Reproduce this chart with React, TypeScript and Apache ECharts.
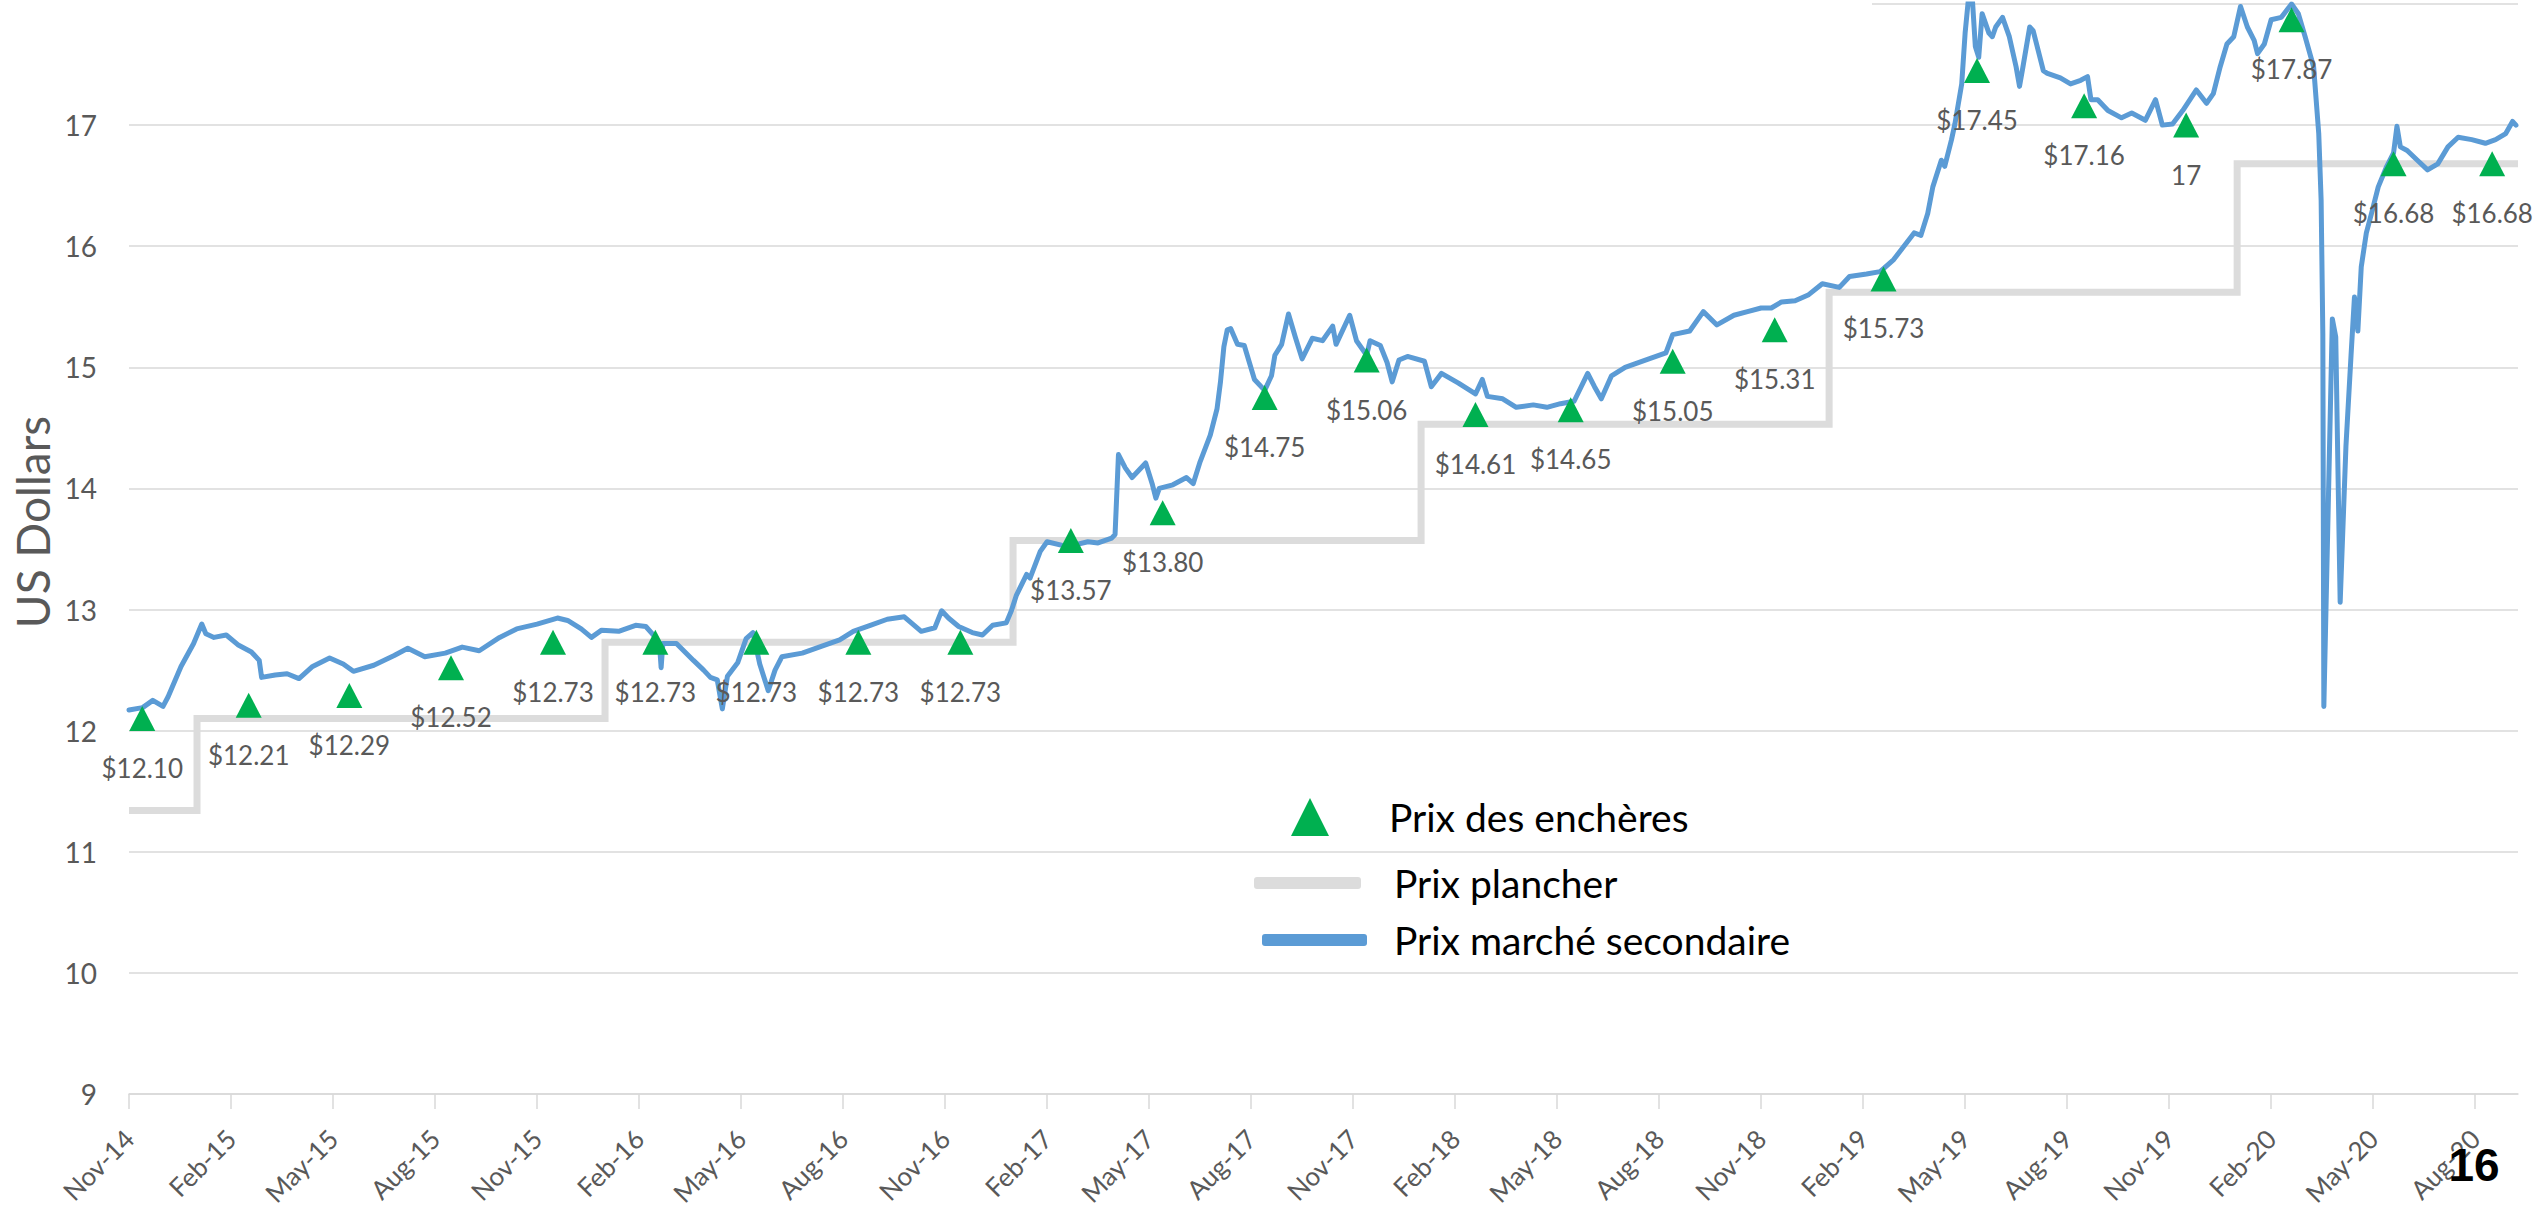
import React, { useEffect, useRef } from 'react';
import * as echarts from 'echarts';

// X axis: months counted from Nov 2014 (0 = Nov-14)
const xTickMonths = [0, 3, 6, 9, 12, 15, 18, 21, 24, 27, 30, 33, 36, 39, 42, 45, 48, 51, 54, 57, 60, 63, 66, 69];
const xTickLabels = ['Nov-14', 'Feb-15', 'May-15', 'Aug-15', 'Nov-15', 'Feb-16', 'May-16', 'Aug-16', 'Nov-16', 'Feb-17', 'May-17', 'Aug-17', 'Nov-17', 'Feb-18', 'May-18', 'Aug-18', 'Nov-18', 'Feb-19', 'May-19', 'Aug-19', 'Nov-19', 'Feb-20', 'May-20', 'Aug-20'];
const xMaxMonth = 70.26;

// Floor price (step changes each January)
const floorMonths = [0, 2, 14, 26, 38, 50, 62, 70.26];
const floorPrices = [11.34, 12.10, 12.73, 13.57, 14.53, 15.62, 16.68, 16.68];

// Auction settlement prices
const auctionMonths = [0.39, 3.52, 6.48, 9.47, 12.47, 15.48, 18.45, 21.45, 24.45, 27.7, 30.4, 33.4, 36.4, 39.6, 42.4, 45.4, 48.4, 51.6, 54.35, 57.5, 60.5, 63.6, 66.6, 69.5];
const auctionPrices = [12.10, 12.21, 12.29, 12.52, 12.73, 12.73, 12.73, 12.73, 12.73, 13.57, 13.80, 14.75, 15.06, 14.61, 14.65, 15.05, 15.31, 15.73, 17.45, 17.16, 17.00, 17.87, 16.68, 16.68];
const auctionLabels = ['$12.10', '$12.21', '$12.29', '$12.52', '$12.73', '$12.73', '$12.73', '$12.73', '$12.73', '$13.57', '$13.80', '$14.75', '$15.06', '$14.61', '$14.65', '$15.05', '$15.31', '$15.73', '$17.45', '$17.16', '17', '$17.87', '$16.68', '$16.68'];

// Secondary market price
const secondaryMonths = [
  0.0, 0.4, 0.7, 1.0, 1.15, 1.53, 1.9, 2.14, 2.26, 2.5, 2.86, 3.2, 3.6, 3.83, 3.9, 4.3, 4.65, 5.0, 5.4, 5.9,
  6.3, 6.6, 7.2, 7.8, 8.2, 8.7, 9.3, 9.8, 10.3, 10.9, 11.4, 12.0, 12.6, 12.9, 13.3, 13.6, 13.9, 14.4, 14.9, 15.2,
  15.45, 15.6, 15.65, 15.7, 16.1, 16.6, 16.9, 17.1, 17.3, 17.45, 17.6, 17.9, 18.15, 18.35, 18.55, 18.8, 19.0, 19.2, 19.8, 20.4,
  20.9, 21.3, 21.8, 22.3, 22.8, 23.3, 23.7, 23.9, 24.1, 24.4, 24.8, 25.1, 25.4, 25.8, 25.95, 26.1, 26.4, 26.5, 26.8, 27.0,
  27.6, 28.2, 28.5, 28.9, 29.0, 29.1, 29.3, 29.5, 29.9, 30.1, 30.2, 30.3, 30.7, 31.1, 31.3, 31.5, 31.8, 32.0, 32.1, 32.2,
  32.3, 32.4, 32.6, 32.8, 33.1, 33.4, 33.6, 33.7, 33.9, 34.1, 34.3, 34.5, 34.8, 35.1, 35.4, 35.5, 35.9, 36.1, 36.4, 36.5,
  36.8, 37.0, 37.15, 37.35, 37.6, 38.1, 38.3, 38.6, 39.1, 39.6, 39.8, 39.95, 40.4, 40.8, 41.3, 41.7, 42.1, 42.5, 42.9, 43.1,
  43.3, 43.6, 44.0, 44.7, 45.2, 45.4, 45.9, 46.3, 46.7, 47.2, 47.6, 48.0, 48.3, 48.6, 49.0, 49.4, 49.8, 50.3, 50.6, 51.1,
  51.5, 51.9, 52.2, 52.5, 52.7, 52.9, 53.05, 53.3, 53.4, 53.6, 53.7, 53.9, 54.0, 54.1, 54.2, 54.3, 54.4, 54.5, 54.7, 54.8,
  54.9, 55.1, 55.3, 55.5, 55.6, 55.7, 55.9, 56.0, 56.3, 56.4, 56.8, 57.1, 57.4, 57.6, 57.7, 57.9, 58.2, 58.6, 58.9, 59.3,
  59.6, 59.8, 60.1, 60.4, 60.8, 61.1, 61.3, 61.5, 61.7, 61.9, 62.1, 62.3, 62.5, 62.6, 62.8, 63.0, 63.3, 63.6, 63.8, 64.0,
  64.25, 64.4, 64.47, 64.52, 64.55, 64.8, 64.9, 65.03, 65.2, 65.35, 65.45, 65.55, 65.65, 65.8, 65.95, 66.15, 66.4, 66.6, 66.7, 66.8,
  67.0, 67.3, 67.6, 67.9, 68.2, 68.5, 68.9, 69.3, 69.6, 69.9, 70.1, 70.2,
];
const secondaryPrices = [
  12.17, 12.19, 12.25, 12.20, 12.28, 12.53, 12.72, 12.88, 12.80, 12.77, 12.79, 12.71, 12.65, 12.58, 12.44, 12.46, 12.47, 12.43, 12.53, 12.60,
  12.55, 12.49, 12.54, 12.62, 12.68, 12.61, 12.64, 12.69, 12.66, 12.77, 12.84, 12.88, 12.93, 12.91, 12.84, 12.77, 12.83, 12.82, 12.87, 12.86,
  12.78, 12.72, 12.52, 12.72, 12.72, 12.58, 12.50, 12.44, 12.42, 12.18, 12.45, 12.56, 12.76, 12.81, 12.55, 12.33, 12.50, 12.61, 12.64, 12.70,
  12.75, 12.82, 12.87, 12.92, 12.94, 12.82, 12.85, 12.99, 12.93, 12.86, 12.81, 12.79, 12.87, 12.89, 12.99, 13.12, 13.29, 13.26, 13.48, 13.56,
  13.52, 13.56, 13.55, 13.59, 13.62, 14.28, 14.17, 14.09, 14.21, 14.03, 13.92, 14.00, 14.03, 14.09, 14.04, 14.22, 14.44, 14.66, 14.88, 15.17,
  15.31, 15.32, 15.19, 15.18, 14.90, 14.81, 14.93, 15.10, 15.19, 15.44, 15.25, 15.07, 15.24, 15.22, 15.34, 15.19, 15.43, 15.22, 15.10, 15.22,
  15.18, 15.04, 14.88, 15.06, 15.09, 15.05, 14.84, 14.95, 14.87, 14.78, 14.90, 14.76, 14.74, 14.67, 14.69, 14.67, 14.70, 14.72, 14.95, 14.84,
  14.74, 14.93, 15.00, 15.07, 15.12, 15.27, 15.30, 15.46, 15.35, 15.43, 15.46, 15.49, 15.49, 15.54, 15.55, 15.60, 15.69, 15.66, 15.75, 15.77,
  15.79, 15.89, 16.00, 16.11, 16.09, 16.27, 16.49, 16.71, 16.66, 16.88, 17.01, 17.34, 17.76, 18.05, 18.10, 17.65, 17.56, 17.92, 17.76, 17.73,
  17.81, 17.89, 17.73, 17.48, 17.32, 17.48, 17.81, 17.78, 17.45, 17.43, 17.39, 17.34, 17.37, 17.40, 17.21, 17.21, 17.12, 17.06, 17.10, 17.04,
  17.21, 17.00, 17.01, 17.12, 17.29, 17.18, 17.26, 17.48, 17.67, 17.73, 17.98, 17.81, 17.70, 17.59, 17.67, 17.87, 17.89, 18.00, 17.92, 17.73,
  17.48, 16.93, 16.38, 15.28, 12.20, 15.40, 15.25, 13.06, 14.35, 15.10, 15.58, 15.30, 15.83, 16.11, 16.27, 16.49, 16.66, 16.77, 16.99, 16.82,
  16.79, 16.71, 16.63, 16.68, 16.82, 16.90, 16.88, 16.85, 16.88, 16.93, 17.03, 17.00,
];

const FONT = 'Lato, "Liberation Sans", sans-serif';
const GRID_COLOR = '#d9d9d9';
const LABEL_COLOR = '#595959';

export default function App() {
  const ref = useRef<HTMLDivElement>(null);

  useEffect(() => {
    if (!ref.current) return;
    const chart = echarts.init(ref.current, null, { renderer: 'svg' });

    const secondaryData = secondaryMonths.map((m, i) => [m, secondaryPrices[i]]);
    const floorData = floorMonths.map((m, i) => [m, floorPrices[i]]);
    const auctionData = auctionMonths.map((m, i) => [m, auctionPrices[i]]);

    chart.setOption({
      animation: false,
      backgroundColor: '#ffffff',
      textStyle: { fontFamily: FONT },
      grid: { left: 129, right: 24, top: 4, bottom: 119, outerBoundsMode: 'none', containLabel: false },
      xAxis: {
        type: 'value',
        min: 0,
        max: xMaxMonth,
        interval: 3,
        axisLine: { show: true, lineStyle: { color: GRID_COLOR, width: 1.5 } },
        axisTick: { show: true, length: 15, lineStyle: { color: GRID_COLOR, width: 1.5 }, customValues: xTickMonths },
        splitLine: { show: false },
        axisLabel: {
          customValues: xTickMonths,
          rotate: 45,
          margin: 40,
          color: LABEL_COLOR,
          fontSize: 26,
          fontFamily: FONT,
          formatter: (v: number) => {
            const i = xTickMonths.indexOf(v);
            return i >= 0 ? xTickLabels[i] : '';
          },
        },
      },
      yAxis: {
        type: 'value',
        min: 9,
        max: 18,
        interval: 1,
        axisLine: { show: false },
        axisTick: { show: false },
        splitLine: { show: true, lineStyle: { color: GRID_COLOR, width: 1.5 } },
        axisLabel: {
          showMaxLabel: false,
          margin: 32,
          color: LABEL_COLOR,
          fontSize: 28,
          fontFamily: FONT,
        },
      },
      legend: [
        {
          data: ['Prix des enchères'],
          left: 1291, top: 793, orient: 'vertical', padding: 0,
          icon: 'triangle', itemWidth: 38, itemHeight: 38,
          selectedMode: false,
          itemStyle: { borderWidth: 0 },
          textStyle: { fontSize: 39, color: '#000', fontFamily: FONT, lineHeight: 48, padding: [0, 0, 0, 55] },
        },
        {
          data: ['Prix plancher'],
          left: 1254, top: 859, orient: 'vertical', padding: 0,
          icon: 'roundRect', itemWidth: 107, itemHeight: 12,
          selectedMode: false,
          itemStyle: { borderWidth: 0 },
          textStyle: { fontSize: 39, color: '#000', fontFamily: FONT, lineHeight: 48, padding: [0, 0, 0, 28] },
        },
        {
          data: ['Prix marché secondaire'],
          left: 1262, top: 916, orient: 'vertical', padding: 0,
          icon: 'roundRect', itemWidth: 105, itemHeight: 12,
          selectedMode: false,
          itemStyle: { borderWidth: 0 },
          textStyle: { fontSize: 39, color: '#000', fontFamily: FONT, lineHeight: 48, padding: [0, 0, 0, 22] },
        },
      ],
      graphic: [
        {
          type: 'rect',
          z: 100,
          shape: { x: 0, y: 0, width: 1872, height: 9 },
          style: { fill: '#ffffff' },
        },
        {
          type: 'text',
          x: 32,
          y: 522,
          rotation: Math.PI / 2,
          style: {
            text: 'US Dollars',
            fontSize: 46,
            fontFamily: FONT,
            fill: LABEL_COLOR,
            align: 'center',
            verticalAlign: 'middle',
          },
        },
        {
          type: 'text',
          x: 2474,
          y: 1165,
          z: 100,
          style: {
            text: '16',
            fontSize: 46,
            fontWeight: 'bold',
            fontFamily: '"Liberation Sans", Arial, sans-serif',
            fill: '#000000',
            align: 'center',
            verticalAlign: 'middle',
          },
        },
      ],
      series: [
        {
          name: 'Prix plancher',
          type: 'line',
          step: 'end',
          data: floorData,
          symbol: 'none',
          itemStyle: { color: '#dcdcdc' },
          lineStyle: { color: '#dcdcdc', width: 7, join: 'miter' },
          z: 2,
        },
        {
          name: 'Prix marché secondaire',
          type: 'line',
          data: secondaryData,
          symbol: 'none',
          itemStyle: { color: '#5b9bd5' },
          lineStyle: { color: '#5b9bd5', width: 5, join: 'round', cap: 'round' },
          z: 3,
        },
        {
          name: 'Prix des enchères',
          type: 'scatter',
          data: auctionData,
          symbol: 'triangle',
          symbolSize: [26, 25],
          itemStyle: { color: '#00b050', opacity: 1 },
          label: {
            show: true,
            position: 'bottom',
            distance: 24,
            color: LABEL_COLOR,
            fontSize: 26,
            lineHeight: 26,
            fontFamily: FONT,
            formatter: (p: any) => auctionLabels[p.dataIndex],
          },
          z: 4,
        },
      ],
    });

    return () => chart.dispose();
  }, []);

  return (
    <div
      ref={ref}
      style={{ position: 'absolute', left: 0, top: 0, width: 2542, height: 1213, background: '#ffffff' }}
    />
  );
}
